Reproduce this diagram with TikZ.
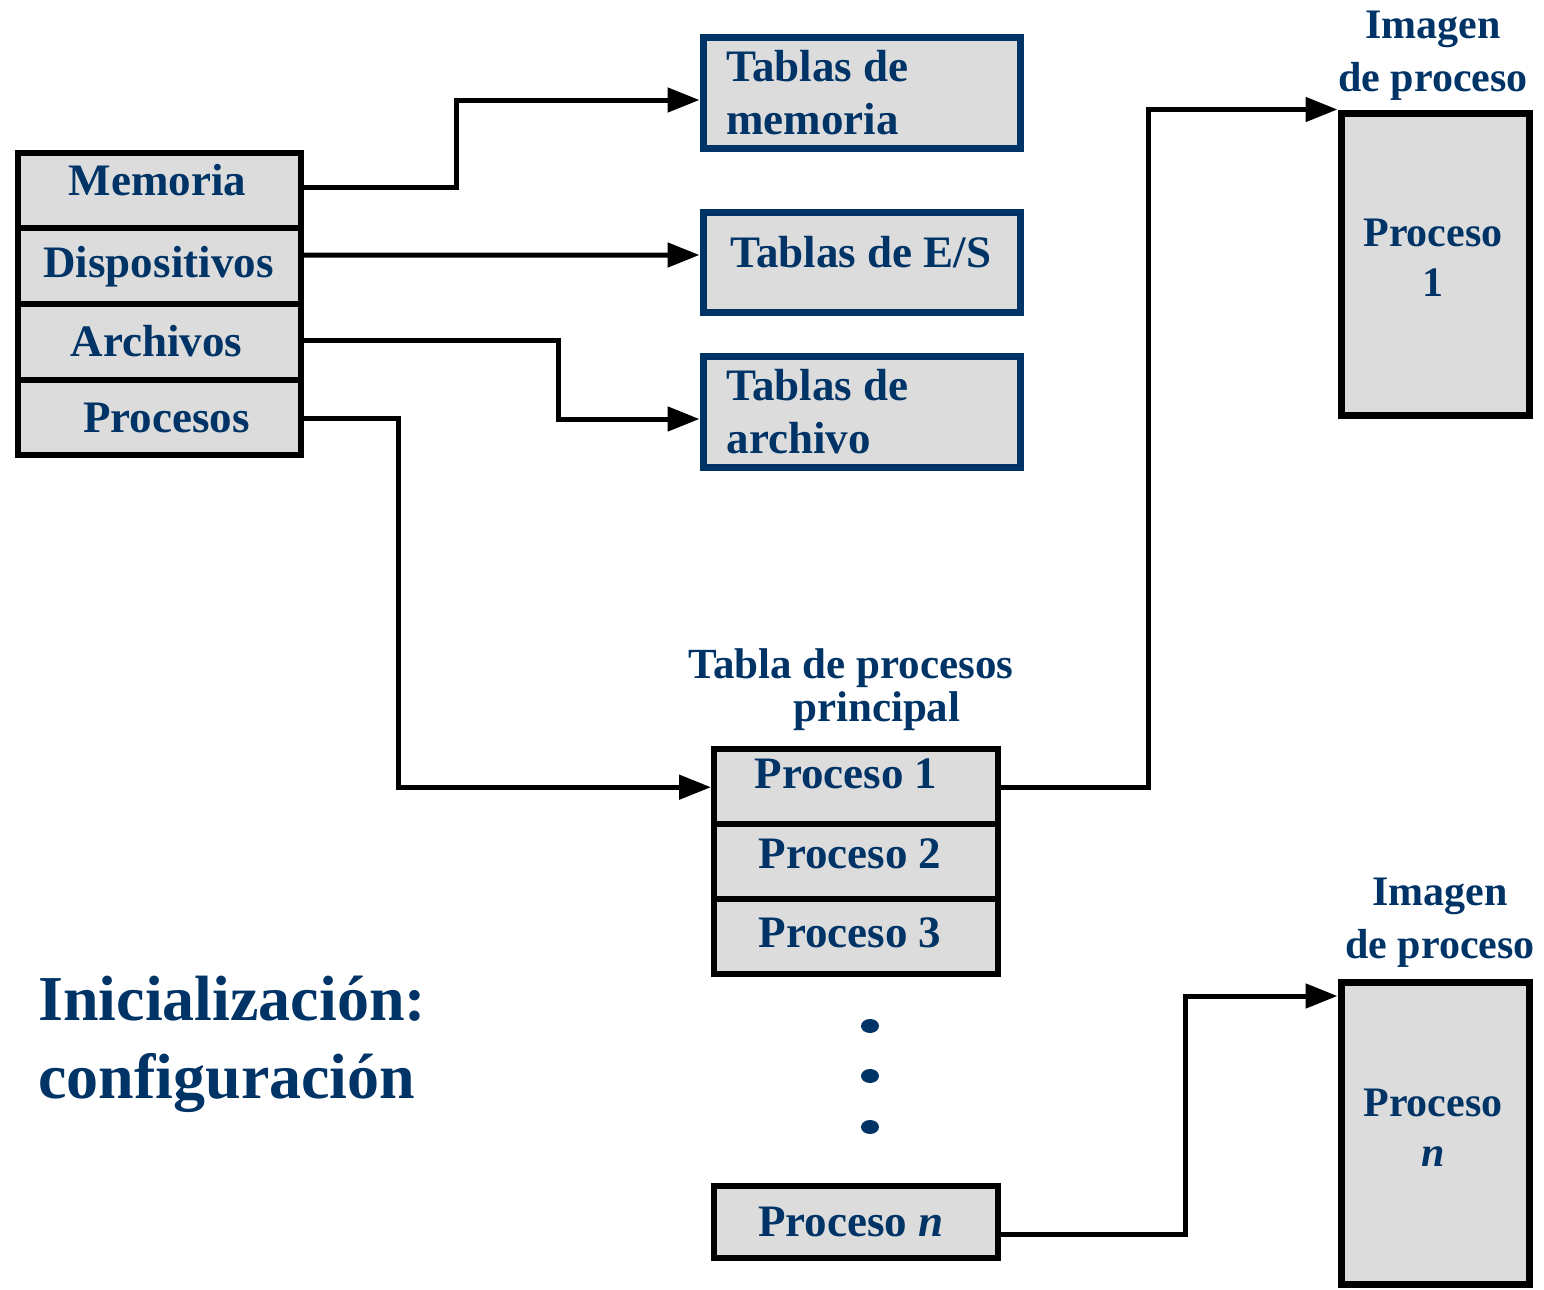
\documentclass[tikz,border=0pt]{standalone}
\usepackage{fontspec}
\setmainfont{Liberation Serif}
\usetikzlibrary{arrows.meta}
\definecolor{navy}{HTML}{003366}
\definecolor{cellgray}{HTML}{DCDCDC}
\begin{document}
\begin{tikzpicture}[x=0.5pt,y=-0.5pt,
  every node/.style={text=navy, font=\bfseries\fontsize{22.5pt}{26.5pt}\selectfont},
  cell/.style={draw=black, line width=3pt, fill=cellgray, inner sep=0pt,
    minimum width=141.5pt, minimum height=37.875pt, text height=15pt, text depth=0pt},
  prow/.style={cell, minimum width=142pt, minimum height=37.67pt},
  tbl/.style={draw=navy, line width=3.5pt, fill=cellgray, minimum width=158.5pt,
    text width=135pt, align=flush left, inner xsep=11.5pt, inner ysep=0pt},
  imgbox/.style={draw=black, line width=3.5pt, fill=cellgray, minimum width=94pt,
    minimum height=151pt, inner sep=0pt},
  boxtext/.style={align=center, inner sep=0pt, font=\bfseries\fontsize{21pt}{25pt}\selectfont},
  imglab/.style={align=center, inner sep=0pt, font=\bfseries\fontsize{21pt}{26.5pt}\selectfont},
  conn/.style={draw=black, line width=2.5pt, -{Triangle[length=16pt,width=12pt]}},
  dotmark/.style={fill=navy}
]
\useasboundingbox (0,0) rectangle (1544,1290);

% left stack
\node[cell, text depth=10pt] (mem)  at (159.5,190.4) {Memoria\hspace*{2pt}};
\node[cell, text depth=4pt]  (disp) at (159.5,266.1) {Dispositivos\hspace*{1pt}};
\node[cell]                  (arch) at (159.5,341.9) {Archivos\hspace*{3pt}};
\node[cell]                  (proc) at (159.5,417.6) {\hspace*{7pt}Procesos};

% tables
\node[tbl, minimum height=55.5pt] (tmem) at (861.5,92.5) {Tablas de\\memoria};
\node[tbl, minimum height=50pt, text height=15pt, text depth=10pt] (tes) at (861.5,262.5) {\hspace*{2pt}Tablas de E/S};
\node[tbl, minimum height=55.5pt] (tarch) at (861.5,412) {Tablas de\\archivo};

% process table
\node[align=center, inner sep=0pt, font=\bfseries\fontsize{21.5pt}{21.5pt}\selectfont] (title) at (851,690) {Tabla de procesos\\\hspace*{1.2em}principal};
\node[prow, text depth=13pt] (p1) at (856,786.2) {Proceso 1\hspace*{10pt}};
\node[prow, text depth=8pt]  (p2) at (856,861.5) {Proceso 2\hspace*{6pt}};
\node[prow, text depth=4pt]  (p3) at (856,936.8) {Proceso 3\hspace*{6pt}};
\node[prow, minimum height=36pt] (pn) at (856,1221.5) {Proceso \textit{n}\hspace*{5pt}};

\fill[dotmark] (870,1026) ellipse [x radius=4.5pt, y radius=3.5pt];
\fill[dotmark] (870,1076) ellipse [x radius=4.5pt, y radius=3.5pt];
\fill[dotmark] (870,1127) ellipse [x radius=4.5pt, y radius=3.5pt];

% process images
\node[imgbox] (img1) at (1435,264) {};
\node[boxtext] (img1t) at (1433,258) {Proceso\\1};
\node[imgbox] (imgn) at (1435,1133.5) {};
\node[boxtext] (imgnt) at (1433,1128) {Proceso\\\textit{n}};
\node[imglab] (lab1) at (1433,56) {Imagen\\de proceso};
\node[imglab] (labn) at (1440,923) {Imagen\\de proceso};

% caption
\node[anchor=west, align=left, inner sep=0pt, font=\bfseries\fontsize{32pt}{39pt}\selectfont] (init) at (38,1044) {Inicialización:\\configuración};

% connectors
\draw[conn] ([yshift=1.5pt]mem.east) -- ++(76pt,0) |- ([yshift=-3.75pt]tmem.west);
\draw[conn] ([yshift=5.5pt]disp.east) -- ([yshift=3.75pt]tes.west);
\draw[conn] ([yshift=0.5pt]arch.east) -- ++(127pt,0) |- ([yshift=-3.5pt]tarch.west);
\draw[conn] ([yshift=-0.5pt]proc.east) -- ++(47pt,0) |- ([yshift=-0.5pt]p1.west);
\draw[conn] ([yshift=-0.5pt]p1.east) -- ++(73.5pt,0) |- (img1.north west);
\draw[conn] ([yshift=-6.25pt]pn.east) -- ++(92pt,0) |- ([yshift=68.75pt]imgn.west);
\end{tikzpicture}
\end{document}
